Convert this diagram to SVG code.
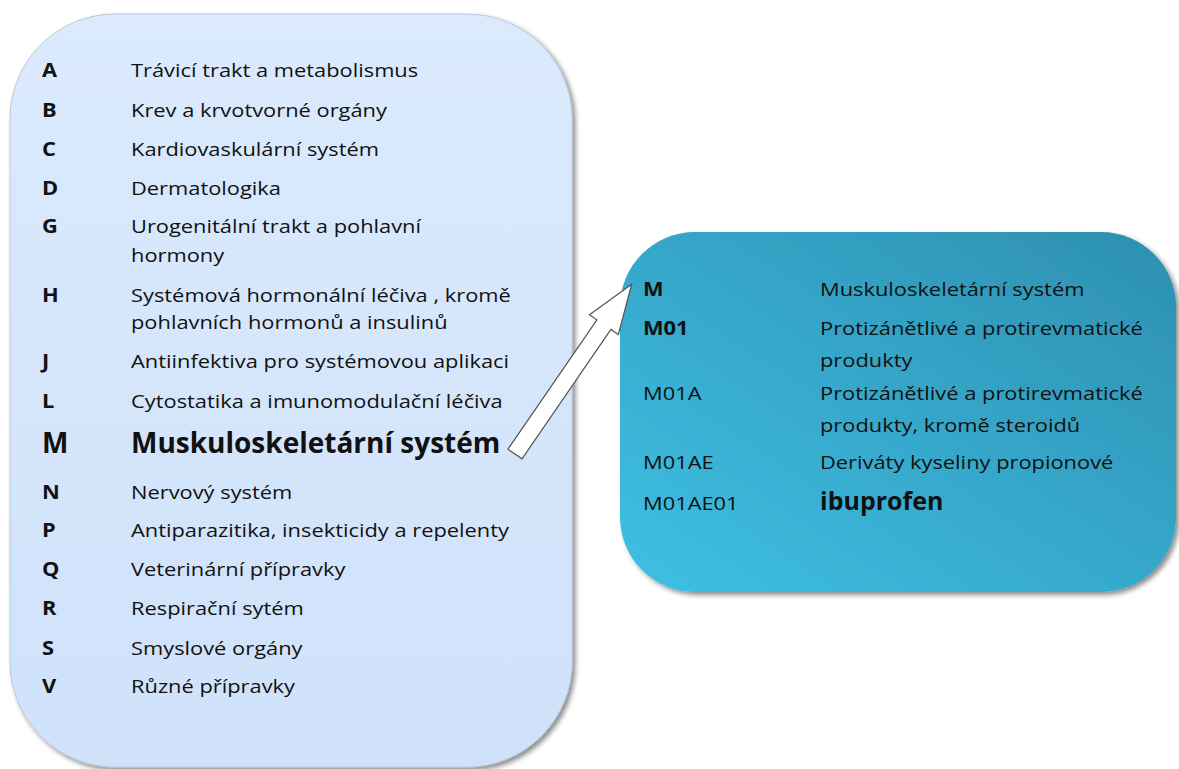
<svg xmlns="http://www.w3.org/2000/svg" width="1179" height="769" viewBox="0 0 1179 769">
<defs>
<linearGradient id="gLeft" x1="0" y1="0" x2="0" y2="1">
<stop offset="0" stop-color="#dbeafd"/>
<stop offset="1" stop-color="#cfe2fa"/>
</linearGradient>
<linearGradient id="gRight" x1="1" y1="0" x2="0" y2="1">
<stop offset="0" stop-color="#2d8fb0"/>
<stop offset="1" stop-color="#3ec0e4"/>
</linearGradient>
<filter id="shadow" x="-10%" y="-10%" width="120%" height="120%">
<feDropShadow dx="3" dy="3" stdDeviation="2.5" flood-color="#000" flood-opacity="0.45"/>
</filter>
<style>
text { font-family: "Open Sans", "Liberation Sans", sans-serif; font-size: 19px; fill: #111; }
.code { font-weight: bold; }
.big { font-weight: bold; font-size: 28px; }
.ibu { font-weight: bold; font-size: 25px; }
.arrow { fill: #ffffff; stroke: #555; stroke-width: 1.2; }
</style>
</defs>

<g id="node-atc-groups">
<rect x="10" y="14" width="562" height="753" rx="105" ry="105" fill="url(#gLeft)" stroke="#b9c9dc" stroke-width="1" filter="url(#shadow)"/>
<g transform="translate(42,0) scale(1.15,1)">
<text class="code" x="0" y="77">A</text>
<text class="code" x="0" y="117">B</text>
<text class="code" x="0" y="156">C</text>
<text class="code" x="0" y="195">D</text>
<text class="code" x="0" y="233">G</text>
<text class="code" x="0" y="302">H</text>
<text class="code" x="0" y="368">J</text>
<text class="code" x="0" y="408">L</text>
<text class="code" x="0" y="499">N</text>
<text class="code" x="0" y="537">P</text>
<text class="code" x="0" y="576">Q</text>
<text class="code" x="0" y="615">R</text>
<text class="code" x="0" y="655">S</text>
<text class="code" x="0" y="693">V</text>
</g>
<text class="big" x="42" y="453">M</text>
<g transform="translate(131,0) scale(1.15,1)">
<text x="0" y="77">Trávicí trakt a metabolismus</text>
<text x="0" y="117">Krev a krvotvorné  orgány</text>
<text x="0" y="156">Kardiovaskulární systém</text>
<text x="0" y="195">Dermatologika</text>
<text x="0" y="233">Urogenitální trakt a pohlavní</text>
<text x="0" y="262">hormony</text>
<text x="0" y="302">Systémová hormonální léčiva , kromě</text>
<text x="0" y="329">pohlavních hormonů a insulinů</text>
<text x="0" y="368">Antiinfektiva pro systémovou aplikaci</text>
<text x="0" y="408">Cytostatika a imunomodulační léčiva</text>
<text x="0" y="499">Nervový systém</text>
<text x="0" y="537">Antiparazitika, insekticidy a repelenty</text>
<text x="0" y="576">Veterinární přípravky</text>
<text x="0" y="615">Respirační sytém</text>
<text x="0" y="655">Smyslové orgány</text>
<text x="0" y="693">Různé přípravky</text>
</g>
<text class="big" x="131" y="453">Muskuloskeletární systém</text>
</g>

<g id="node-m-detail">
<rect x="620" y="232" width="556" height="360" rx="75" ry="75" fill="url(#gRight)" filter="url(#shadow)"/>
<g transform="translate(643,0) scale(1.15,1)">
<text class="code" x="0" y="296">M</text>
<text class="code" x="0" y="335">M01</text>
<text x="0" y="400">M01A</text>
<text x="0" y="469">M01AE</text>
<text x="0" y="510">M01AE01</text>
</g>
<g transform="translate(820,0) scale(1.15,1)">
<text x="0" y="296">Muskuloskeletární systém</text>
<text x="0" y="335">Protizánětlivé a protirevmatické</text>
<text x="0" y="367">produkty</text>
<text x="0" y="400">Protizánětlivé a protirevmatické</text>
<text x="0" y="432">produkty, kromě steroidů</text>
<text x="0" y="469">Deriváty kyseliny propionové</text>
</g>
<text class="ibu" x="820" y="510">ibuprofen</text>
</g>

<g id="connectors">
<path class="arrow" transform="translate(515,454) rotate(-55.5)" d="M0,-8.5 L157,-8.5 L157,-17.5 L206,0 L157,17.5 L157,8.5 L0,8.5 Z"/>
</g>
</svg>
